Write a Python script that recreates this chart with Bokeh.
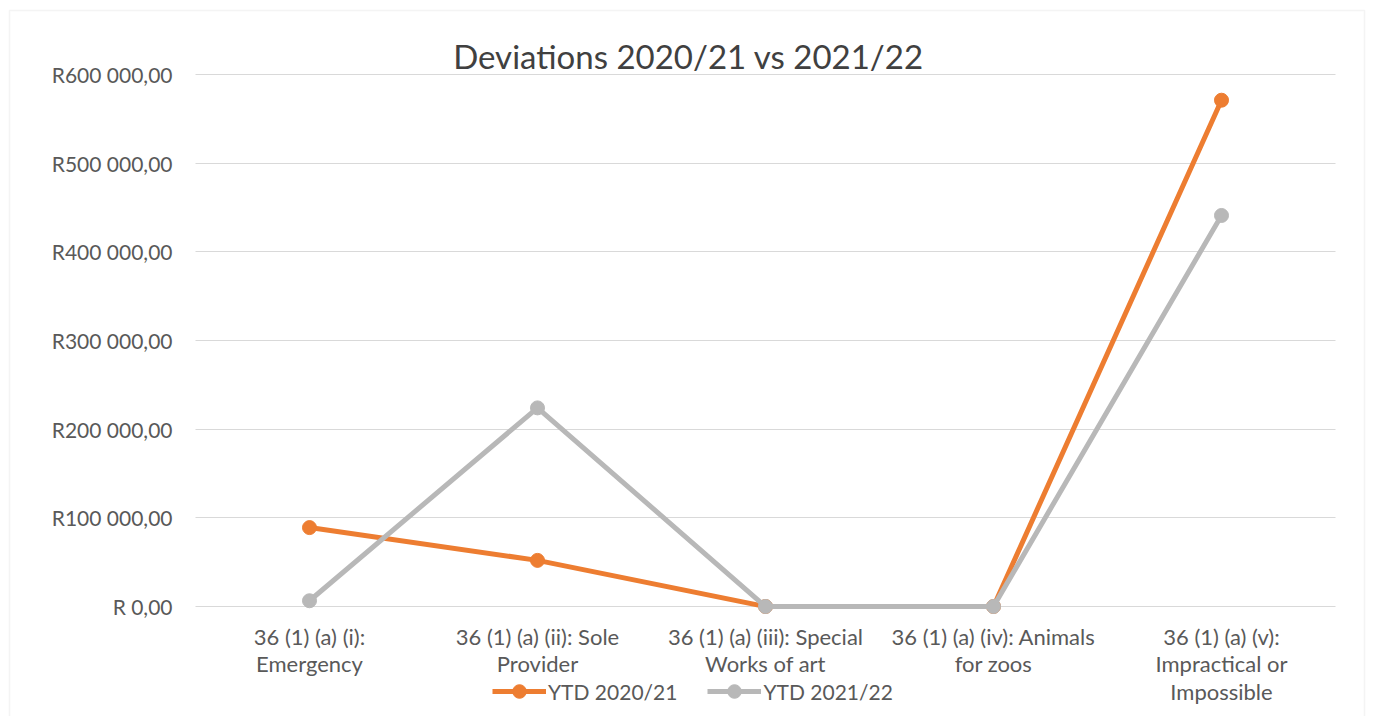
from bokeh.plotting import figure
from bokeh.models import Range1d, FixedTicker, Label, Legend, LegendItem, BoxAnnotation
from bokeh.embed import file_html
from bokeh.resources import INLINE

categories = [
    "36 (1) (a) (i):\nEmergency",
    "36 (1) (a) (ii): Sole\nProvider",
    "36 (1) (a) (iii): Special\nWorks of art",
    "36 (1) (a) (iv): Animals\nfor zoos",
    "36 (1) (a) (v):\nImpractical or\nImpossible",
]
ytd_2020_21 = [89000, 52000, 0, 0, 571000]
ytd_2021_22 = [6500, 224000, 0, 0, 441000]
y_ticks = [0, 100000, 200000, 300000, 400000, 500000, 600000]
y_tick_labels = ["R 0,00", "R100 000,00", "R200 000,00", "R300 000,00",
                 "R400 000,00", "R500 000,00", "R600 000,00"]
series_names = ["YTD 2020/21", "YTD 2021/22"]
title_text = "Deviations 2020/21 vs 2021/22"

FONT = "Lato"
W, H = 1366, 716
PLOT_LEFT, PLOT_RIGHT = 195, 1335   # pixel columns of the plot area
ZERO_Y, TOP_Y = 606, 74             # pixel rows of the 0 and 600k grid lines
CAT_W = (PLOT_RIGHT - PLOT_LEFT) / len(categories)
k = (ZERO_Y - TOP_Y) / 600000.0


def dx(px):
    return (px - PLOT_LEFT) / CAT_W


def dy(py):
    return (ZERO_Y - py) / k


xs = [i + 0.5 for i in range(len(categories))]

p = figure(width=W, height=H, output_backend="svg", toolbar_location=None,
           x_range=Range1d(dx(0), dx(W)), y_range=Range1d(dy(H), dy(0)),
           min_border_left=0, min_border_right=0, min_border_top=0,
           min_border_bottom=0)
p.outline_line_color = None
p.background_fill_color = "white"
p.border_fill_color = "white"

# chart border
p.add_layout(BoxAnnotation(left=dx(9), right=dx(1364), top=dy(10), bottom=dy(800),
                           fill_alpha=0, line_color="#d9d9d9", line_width=1.5))

p.xgrid.visible = False
p.ygrid.ticker = FixedTicker(ticks=y_ticks)
p.ygrid.grid_line_color = "#d9d9d9"
p.ygrid.grid_line_width = 1
p.ygrid.cross_bounds = (0, len(categories))

p.yaxis.fixed_location = 0
p.yaxis.ticker = FixedTicker(ticks=y_ticks)
p.yaxis.major_label_overrides = {t: l for t, l in zip(y_ticks, y_tick_labels)}
p.yaxis.axis_line_color = None
p.yaxis.major_tick_line_color = None
p.yaxis.minor_tick_line_color = None
p.yaxis.major_tick_in = 0
p.yaxis.major_tick_out = 0
p.yaxis.major_label_standoff = 23
p.yaxis.major_label_text_font = FONT
p.yaxis.major_label_text_font_size = "21px"
p.yaxis.major_label_text_color = "#595959"

p.xaxis.fixed_location = 0
p.xaxis.ticker = FixedTicker(ticks=xs)
p.xaxis.major_label_overrides = {x: c for x, c in zip(xs, categories)}
p.xaxis.axis_line_color = None
p.xaxis.major_tick_line_color = None
p.xaxis.minor_tick_line_color = None
p.xaxis.major_tick_in = 0
p.xaxis.major_tick_out = 0
p.xaxis.major_label_standoff = 16
p.xaxis.major_label_text_font = FONT
p.xaxis.major_label_text_font_size = "22px"
p.xaxis.major_label_text_color = "#595959"
p.xaxis.major_label_text_line_height = 1.03

colors = ["#ED7D31", "#B8B8B8"]
items = []
for name, vals, col in zip(series_names, [ytd_2020_21, ytd_2021_22], colors):
    l = p.line(xs, vals, line_color=col, line_width=5)
    s = p.scatter(xs, vals, size=14, marker="circle", fill_color=col, line_color=col)
    items.append(LegendItem(label=name, renderers=[l, s]))

legend = Legend(items=items, orientation="horizontal", location=(492, 8),
                label_text_font=FONT, label_text_font_size="21px",
                label_text_color="#595959", glyph_width=54, glyph_height=34,
                label_standoff=2, spacing=30, padding=0, margin=0,
                border_line_alpha=0, background_fill_alpha=0)
p.add_layout(legend, "center")

title = Label(x=dx(688), y=dy(55), text=title_text,
              text_font=FONT, text_font_size="33px", text_color="#404040",
              text_align="center", text_baseline="middle")
p.add_layout(title)

open("out.html", "w").write(file_html(p, INLINE))
